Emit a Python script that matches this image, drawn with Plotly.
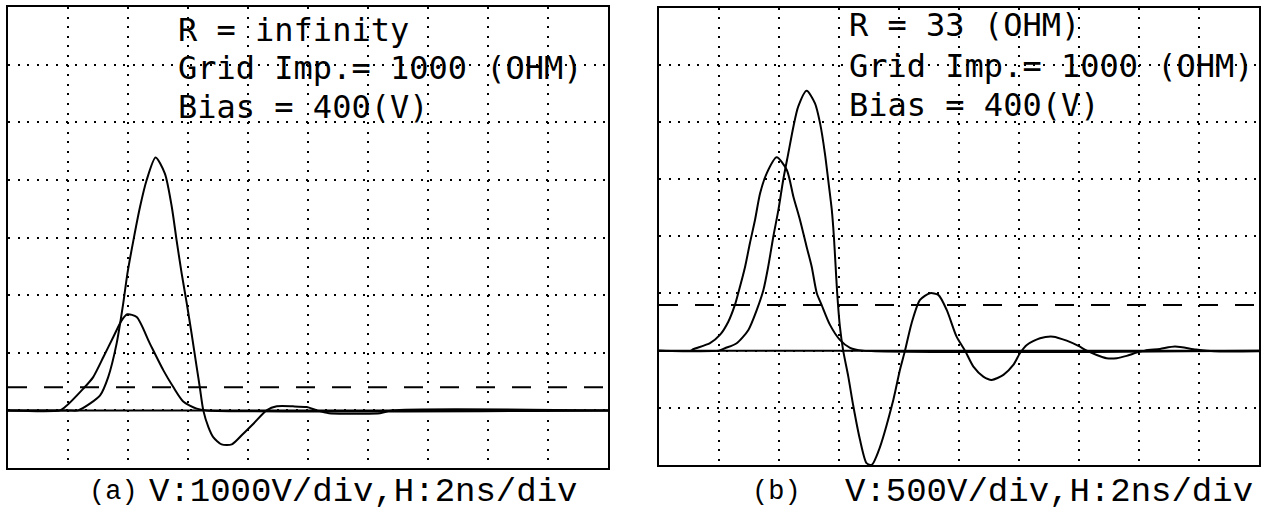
import plotly.graph_objects as go

# ---------------- data (time in ns, voltage in V) ----------------
# Panel (a): R = infinity, 1000 V/div, 2 ns/div
t_a_big = [0, 2.0, 2.34, 2.73, 3.07, 3.34, 3.62, 3.84, 3.98, 4.18, 4.4, 4.62, 4.92, 5.23,
           5.46, 5.62, 5.79, 5.96, 6.12, 6.29, 6.4, 6.51, 6.68, 6.84, 7.12, 7.46, 7.84,
           8.18, 8.62, 8.96, 9.5, 9.96, 10.29, 10.7, 11.5, 12.4, 12.8, 20]
v_a_big = [0, 0, 0, 116, 260, 578, 1158, 1852, 2373, 2951, 3530, 3993, 4387, 4109,
           3530, 2951, 2373, 1852, 1331, 752, 377, 0, -290, -463, -590, -590, -405,
           -231, 0, 70, 70, 57, 0, -50, -57, -50, 0, 0]

t_a_small = [0, 1.73, 1.9, 2.51, 2.84, 3.18, 3.51, 3.79, 3.98, 4.29, 4.73, 5.18, 5.51,
             5.84, 6.29, 6.62, 20]
v_a_small = [0, 0, 57, 377, 578, 925, 1273, 1563, 1667, 1620, 1158, 694, 405,
             156, 30, 0, 0]

# Panel (b): R = 33 ohm, 500 V/div, 2 ns/div
t_b_big = [0, 2.0, 2.2, 2.59, 2.98, 3.26, 3.48, 3.64, 3.81, 3.98, 4.14, 4.31, 4.48, 4.64,
           4.92, 5.2, 5.37, 5.53, 5.64, 5.76, 5.83, 5.88, 5.94, 6.03, 6.14, 6.31, 6.48,
           6.7, 6.92, 7.09, 7.31, 7.81, 8.03, 8.2, 8.42, 8.7, 9.03, 9.31, 9.59, 9.92,
           10.2, 10.48, 10.81, 11.09, 11.48, 11.81, 12.03, 12.26, 12.7, 13.14, 13.59,
           13.98, 14.26, 14.59, 14.92, 15.26, 15.59, 15.92, 16.2, 16.7, 17.2, 17.9, 18.5, 20]
v_b_big = [0, 0, 21, 65, 181, 356, 530, 734, 996, 1230, 1492, 1725, 1958, 2133,
           2272, 2162, 1987, 1725, 1492, 1230, 996, 770, 502, 210, 0, -227, -489,
           -780, -984, -999, -883, -431, -169, 0, 240, 443, 502, 487, 356, 122,
           0, -140, -227, -256, -212, -125, -23, 50, 108, 122, 87,
           41, 0, -38, -66, -66, -46, -17, 0, 15, 35, 10, -5, -5]

t_b_small = [0, 1.07, 1.14, 1.7, 2.03, 2.31, 2.53, 2.64, 2.87, 3.03, 3.2, 3.37, 3.59,
             3.92, 4.26, 4.48, 4.7, 4.92, 5.09, 5.26, 5.42, 5.7, 6.03, 6.37, 6.8, 20]
v_b_small = [0, 0, 12, 65, 137, 253, 400, 502, 734, 939, 1142, 1376, 1550,
             1690, 1579, 1346, 1142, 909, 734, 502, 400, 225, 94, 24, 0, 0]

bias_v = 400
x_range = [0, 20]
x_div = 2
a_range = [-1000, 7000]
a_div = 1000
b_range = [-1000, 3000]
b_div = 500

a_text = ["R = infinity", "Grid Imp.= 1000 (OHM)", "Bias = 400(V)"]
b_text = ["R = 33 (OHM)", "Grid Imp.= 1000 (OHM)", "Bias = 400(V)"]
a_caption = ("(a)", "V:1000V/div,H:2ns/div")
b_caption = ("(b)", "V:500V/div,H:2ns/div")

# ---------------- figure ----------------
W, H = 1270, 512
fig = go.Figure()

line_style = dict(color="black", width=2, shape="spline", smoothing=0.7)
for tx, vy, xa, ya in [(t_a_small, v_a_small, "x", "y"), (t_a_big, v_a_big, "x", "y"),
                       (t_b_small, v_b_small, "x2", "y2"), (t_b_big, v_b_big, "x2", "y2")]:
    fig.add_trace(go.Scatter(x=tx, y=vy, mode="lines", line=line_style,
                             xaxis=xa, yaxis=ya, showlegend=False, hoverinfo="skip"))

common = dict(showgrid=True, gridcolor="black", gridwidth=2, griddash="2px,7.6px",
              showline=True, mirror=True, linecolor="black", linewidth=2,
              showticklabels=False, ticks="", zeroline=False, fixedrange=True)

fig.update_layout(
    width=W, height=H,
    margin=dict(l=0, r=0, t=0, b=0),
    paper_bgcolor="white", plot_bgcolor="white",
    xaxis=dict(domain=[8 / W, 608 / W], range=x_range, dtick=x_div, tick0=0, anchor="y", **common),
    yaxis=dict(domain=[1 - 468 / H, 1 - 7 / H], range=a_range, dtick=a_div, tick0=0, anchor="x", **common),
    xaxis2=dict(domain=[659 / W, 1259 / W], range=x_range, dtick=x_div, tick0=0, anchor="y2", **common),
    yaxis2=dict(domain=[1 - 465 / H, 1 - 7.5 / H], range=b_range, dtick=b_div, tick0=0, anchor="x2", **common),
)

shapes = []
for xr, yr in [("x", "y"), ("x2", "y2")]:
    shapes.append(dict(type="line", xref=xr, yref=yr, x0=x_range[0], x1=x_range[1], y0=0, y1=0,
                       line=dict(color="black", width=2)))
    shapes.append(dict(type="line", xref=xr, yref=yr, x0=x_range[0], x1=x_range[1], y0=bias_v, y1=bias_v,
                       line=dict(color="black", width=2, dash="19px,17px")))
fig.update_layout(shapes=shapes)

ann = []
font_top = dict(family="DejaVu Sans Mono", size=32, color="black", weight=300)
for txt, yc in zip(a_text, [29.5, 67.5, 106.5]):
    ann.append(dict(text=txt, xref="paper", yref="paper", x=176 / W, y=1 - yc / H,
                    xanchor="left", yanchor="middle", showarrow=False, font=font_top))
for txt, yc in zip(b_text, [25, 65.5, 105]):
    ann.append(dict(text=txt, xref="paper", yref="paper", x=847 / W, y=1 - yc / H,
                    xanchor="left", yanchor="middle", showarrow=False, font=font_top))

font_cap = dict(family="Liberation Mono", size=34, color="black")
font_lab = dict(family="Liberation Mono", size=27, color="black")
cap_y = 1 - 492 / H
ann.append(dict(text=a_caption[0], xref="paper", yref="paper", x=87 / W, y=cap_y,
                xanchor="left", yanchor="middle", showarrow=False, font=font_lab))
ann.append(dict(text=a_caption[1], xref="paper", yref="paper", x=147 / W, y=cap_y,
                xanchor="left", yanchor="middle", showarrow=False, font=font_cap))
ann.append(dict(text=b_caption[0], xref="paper", yref="paper", x=750 / W, y=cap_y,
                xanchor="left", yanchor="middle", showarrow=False, font=font_lab))
ann.append(dict(text=b_caption[1], xref="paper", yref="paper", x=843 / W, y=cap_y,
                xanchor="left", yanchor="middle", showarrow=False, font=font_cap))
fig.update_layout(annotations=ann)

fig.write_html("out.html")
